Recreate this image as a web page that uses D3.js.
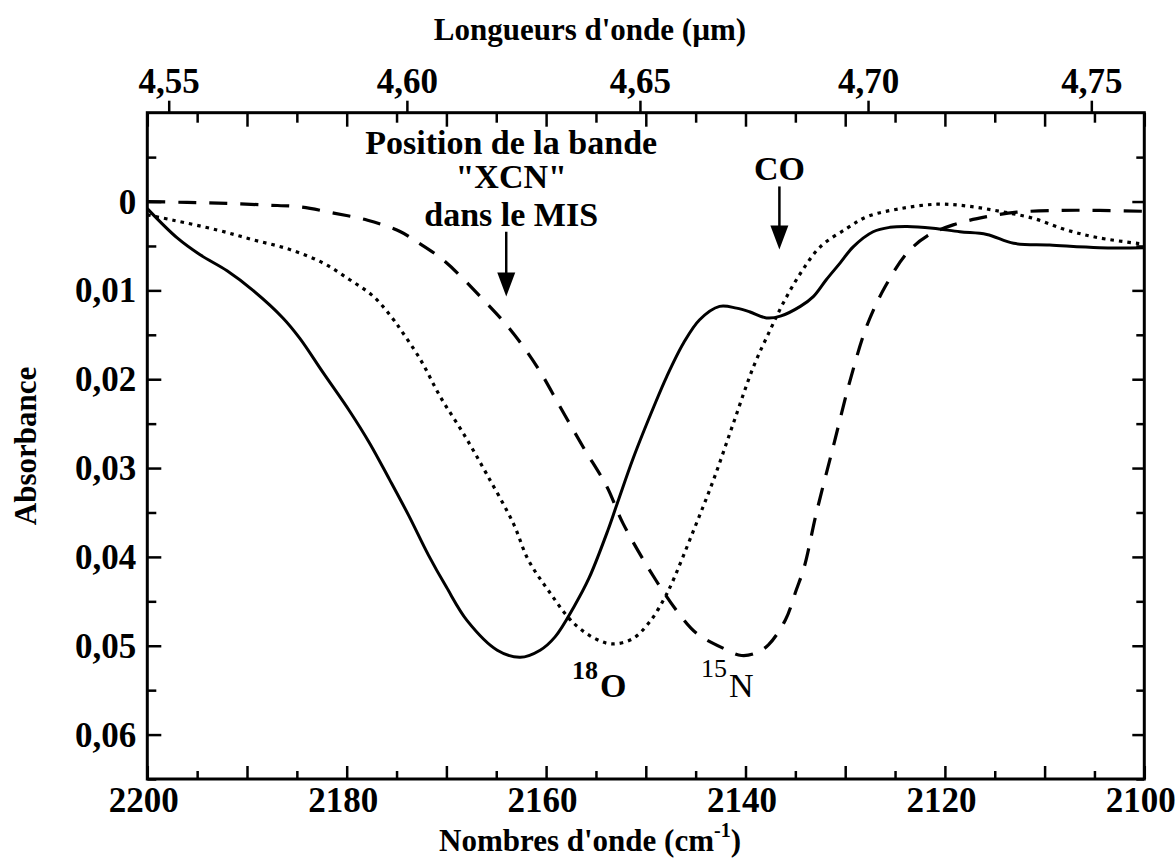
<!DOCTYPE html>
<html><head><meta charset="utf-8">
<script src="https://cdn.jsdelivr.net/npm/d3@7"></script>
<style>
html,body{margin:0;padding:0;background:#fff;}
text{font-family:"Liberation Serif","Times New Roman",serif;font-weight:bold;fill:#000;}
</style></head>
<body><svg id="chart" width="1176" height="858"></svg>
<script>
// ---- data (wavenumber cm-1, absorbance) ----
const xcnWavenumber = [2200.0,2197.0,2194.7,2192.0,2189.4,2186.4,2184.7,2182.4,2179.7,2177.7,2175.7,2173.8,2171.8,2170.0,2167.9,2164.9,2162.6,2160.6,2159.1,2157.2,2155.7,2153.8,2152.9,2151.2,2149.2,2147.9,2146.2,2144.6,2142.6,2140.9,2139.6,2137.9,2136.5,2134.5,2133.2,2131.9,2130.5,2129.2,2127.2,2125.5,2123.8,2121.2,2118.5,2115.8,2113.1,2109.5,2104.5,2100.0];
const xcnAbsorbance = [0.0008,0.0041,0.0060,0.0078,0.0100,0.0131,0.0154,0.0192,0.0236,0.0272,0.0313,0.0353,0.0398,0.0434,0.0472,0.0505,0.0513,0.0505,0.0490,0.0456,0.0424,0.0370,0.0341,0.0287,0.0231,0.0197,0.0159,0.0133,0.0118,0.0120,0.0124,0.0131,0.0129,0.0118,0.0107,0.0088,0.0069,0.0051,0.0034,0.0029,0.0028,0.0030,0.0034,0.0037,0.0047,0.0049,0.0052,0.0052];

const o18Wavenumber = [2200.0,2197.4,2193.0,2189.4,2185.7,2182.4,2179.7,2177.3,2175.3,2174.6,2172.6,2170.6,2168.3,2166.0,2163.3,2161.8,2159.7,2157.2,2154.9,2153.3,2151.3,2149.6,2148.2,2147.4,2145.2,2143.2,2141.2,2139.2,2137.5,2136.2,2134.5,2132.5,2129.8,2127.8,2124.5,2120.8,2117.8,2114.5,2111.1,2107.8,2104.5,2100.0];
const o18Absorbance = [0.0015,0.0021,0.0032,0.0043,0.0054,0.0069,0.0088,0.0107,0.0133,0.0144,0.0178,0.0220,0.0261,0.0306,0.0362,0.0403,0.0439,0.0475,0.0493,0.0498,0.0492,0.0473,0.0448,0.0430,0.0370,0.0313,0.0249,0.0186,0.0144,0.0114,0.0081,0.0051,0.0030,0.0017,0.0008,0.0003,0.0005,0.0011,0.0019,0.0032,0.0041,0.0048];

const n15Wavenumber = [2200.0,2196.0,2192.0,2188.0,2184.7,2181.3,2177.9,2174.6,2173.0,2170.3,2166.6,2163.6,2160.9,2158.6,2156.3,2153.9,2152.3,2149.0,2146.6,2144.9,2142.2,2140.4,2138.9,2137.7,2136.0,2134.9,2134.1,2132.9,2131.2,2129.5,2127.8,2126.0,2123.8,2121.8,2119.1,2115.8,2112.8,2108.5,2104.5,2100.0];
const n15Absorbance = [0.0000,0.0001,0.0002,0.0004,0.0006,0.0013,0.0021,0.0034,0.0045,0.0066,0.0107,0.0144,0.0186,0.0231,0.0276,0.0321,0.0362,0.0426,0.0465,0.0486,0.0503,0.0511,0.0508,0.0499,0.0471,0.0437,0.0411,0.0351,0.0276,0.0201,0.0139,0.0096,0.0058,0.0039,0.0026,0.0017,0.0012,0.0010,0.0010,0.0011];

const bottomTickLabels = [2200,2180,2160,2140,2120,2100];
const leftTickLabels = [0,0.01,0.02,0.03,0.04,0.05,0.06];
const topTickLabels = [4.55,4.60,4.65,4.70,4.75];

const svg = d3.select("#chart");
const x = d3.scaleLinear().domain([2200,2100]).range([147.3,1144.3]);
const y = d3.scaleLinear().domain([-0.01,0.065]).range([112.7,779]);
const [x0,x1] = x.range(), [y0,y1] = y.range();
const fmtComma = v => v===0 ? "0" : d3.format(".2f")(v).replace(".",",");

// ---- curves ----
const line = d3.line().x(d=>x(d[0])).y(d=>y(d[1])).curve(d3.curveCatmullRom.alpha(0.5));
function drawSeries(wn, ab, dash){
  svg.append("path").datum(wn.map((w,i)=>[w,ab[i]]))
    .attr("d",line).attr("fill","none").attr("stroke","#000")
    .attr("stroke-width",dash? 3.2 : 3).attr("stroke-linejoin","round")
    .attr("stroke-dasharray",dash||null);
}
drawSeries(n15Wavenumber,n15Absorbance,"18,13");
drawSeries(o18Wavenumber,o18Absorbance,"3.5,5");
drawSeries(xcnWavenumber,xcnAbsorbance,null);

// ---- axes ----
const tickStroke = 2.5;
const wnTicks = d3.range(2200,2099,-5);
// bottom
const gB = svg.append("g").attr("transform",`translate(0,${y1})`)
  .call(d3.axisBottom(x).tickValues(wnTicks).tickSize(0).tickFormat(d=>bottomTickLabels.includes(d)?d:""));
gB.select(".domain").remove();
gB.selectAll(".tick line").attr("y2",d=>d%10===0?-13:-8).attr("stroke","#000").attr("stroke-width",tickStroke);
gB.selectAll(".tick text").attr("dy",0).attr("y",33).attr("dx",-4)
  .style("font-size","35px").style("font-family","Liberation Serif, Times New Roman, serif").style("font-weight","bold");
// top inner ticks
const gT = svg.append("g").attr("transform",`translate(0,${y0})`)
  .call(d3.axisTop(x).tickValues(wnTicks).tickSize(0).tickFormat(""));
gT.select(".domain").remove();
gT.selectAll(".tick line").attr("y2",d=>d%10===0?14:10).attr("stroke","#000").attr("stroke-width",tickStroke);
// top wavelength axis
const gW = svg.append("g").attr("transform",`translate(0,${y0})`);
topTickLabels.forEach(l=>{
  const px = x(1e4/l);
  gW.append("line").attr("x1",px).attr("x2",px).attr("y1",0).attr("y2",-12).attr("stroke","#000").attr("stroke-width",tickStroke);
  gW.append("text").attr("x",px).attr("y",-20).attr("text-anchor","middle").style("font-size","35px").text(d3.format(".2f")(l).replace(".",","));
});
// left
const yTicks = d3.range(-0.005,0.0651,0.005).map(v=>+v.toFixed(3));
const gL = svg.append("g").attr("transform",`translate(${x0},0)`)
  .call(d3.axisLeft(y).tickValues(yTicks).tickSize(0).tickFormat(d=>leftTickLabels.includes(d)?fmtComma(d):""));
gL.select(".domain").remove();
gL.selectAll(".tick line").attr("x2",d=>Math.round(d*1000)%10===0?14:9).attr("stroke","#000").attr("stroke-width",tickStroke);
gL.selectAll(".tick text").attr("x",-11).attr("dy","0.33em")
  .style("font-size","35px").style("font-family","Liberation Serif, Times New Roman, serif").style("font-weight","bold");
// right
const gR = svg.append("g").attr("transform",`translate(${x1},0)`)
  .call(d3.axisRight(y).tickValues(yTicks).tickSize(0).tickFormat(""));
gR.select(".domain").remove();
gR.selectAll(".tick line").attr("x2",d=>Math.round(d*1000)%10===0?-12:-8).attr("stroke","#000").attr("stroke-width",tickStroke);

// frame
svg.append("rect").attr("x",x0).attr("y",y0).attr("width",x1-x0).attr("height",y1-y0)
  .attr("fill","none").attr("stroke","#000").attr("stroke-width",3);

// ---- titles ----
svg.append("text").attr("x",590).attr("y",40).attr("text-anchor","middle").style("font-size","31px").text("Longueurs d'onde (µm)");
const bt = svg.append("text").attr("x",590).attr("y",851).attr("text-anchor","middle").style("font-size","31px");
bt.append("tspan").text("Nombres d'onde (cm");
bt.append("tspan").attr("dy",-14).style("font-size","20px").text("-1");
bt.append("tspan").attr("dy",14).text(")");
svg.append("text").attr("transform","translate(36,446) rotate(-90)").attr("text-anchor","middle").style("font-size","31px").text("Absorbance");

// ---- annotations ----
const annX = x(2163.5);
[["Position de la bande",154],["\"XCN\"",188],["dans le MIS",226]].forEach(([t,b])=>{
  svg.append("text").attr("x",annX).attr("y",b).attr("text-anchor","middle").style("font-size","34px").text(t);
});
svg.append("text").attr("x",x(2136.6)).attr("y",180).attr("text-anchor","middle").style("font-size","34px").text("CO");

function arrow(wn, aFrom, aTo){
  const px = x(wn), ya = y(aFrom), yb = y(aTo);
  svg.append("line").attr("x1",px).attr("x2",px).attr("y1",ya).attr("y2",yb-18).attr("stroke","#000").attr("stroke-width",2.5);
  svg.append("path").attr("d",`M${px-9},${yb-24} L${px+9},${yb-24} L${px},${yb} Z`).attr("fill","#000");
}
arrow(2164.0,0.0034,0.0107);
arrow(2136.6,-0.0017,0.0054);

// isotope labels
svg.append("text").attr("x",572).attr("y",679).style("font-size","26px").text("18");
svg.append("text").attr("x",600).attr("y",697).style("font-size","34px").text("O");
svg.append("text").attr("x",701).attr("y",677).style("font-size","26px").style("font-weight","normal").text("15");
svg.append("text").attr("x",729).attr("y",697).style("font-size","34px").style("font-weight","normal").text("N");
</script></body></html>
